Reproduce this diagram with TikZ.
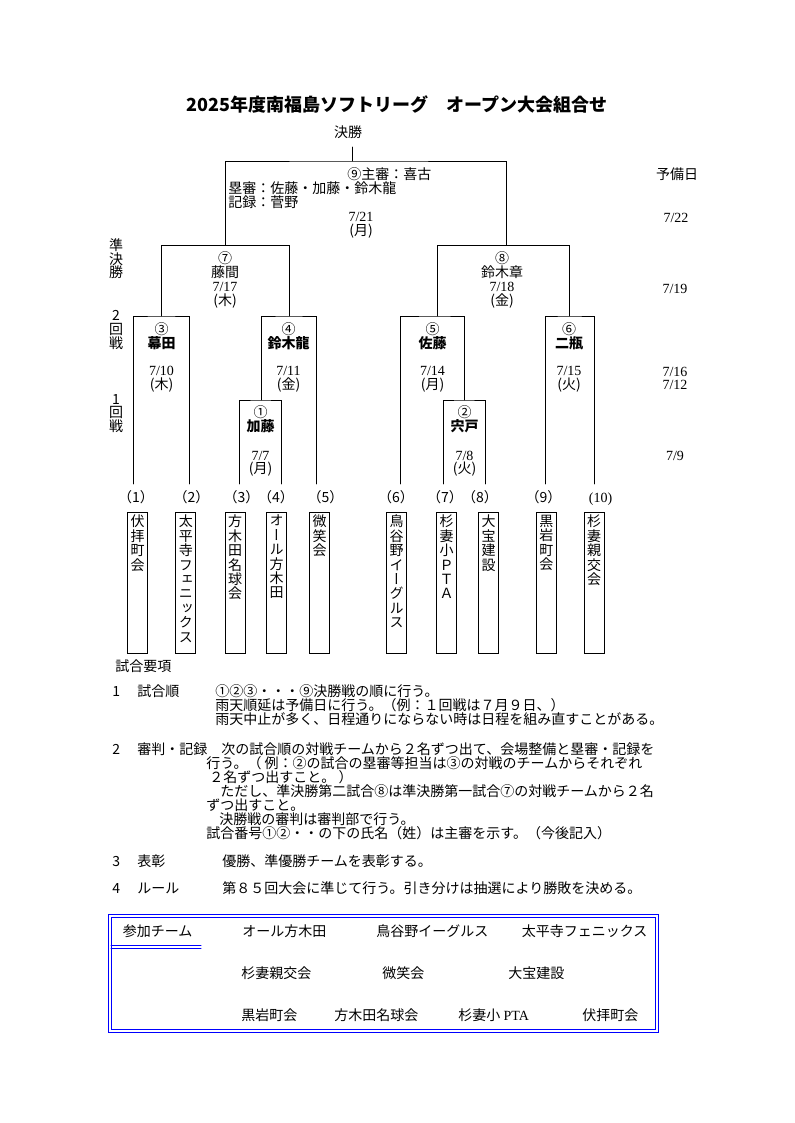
\documentclass[tikz,border=0pt]{standalone}
\usepackage{fontspec}
\setmainfont{Noto Sans CJK JP}
\newfontfamily\tatefont[RawFeature=+vert]{Noto Sans CJK JP}
\newfontfamily\dfont{Liberation Serif}
\usetikzlibrary{positioning}

\begin{document}
\begin{tikzpicture}[x=0.75pt,y=-0.75pt,line cap=round,line join=miter,
    every path/.style={line width=.6pt},
    lbl/.style={inner sep=0pt,font=\fontsize{10.5pt}{10.5pt}\selectfont,
      text height=7.6pt,text depth=1.4pt},
    txt/.style={lbl,anchor=west},
    bold/.style={lbl,font=\fontsize{10.5pt}{10.5pt}\selectfont\bfseries},
    dt/.style={lbl,font=\dfont\fontsize{10.5pt}{10.5pt}\selectfont},
    stack/.style={inner sep=0pt,align=center,
      font=\fontsize{10.5pt}{10.2pt}\selectfont},
    teambox/.style={draw,anchor=north,inner sep=0pt,
      minimum width=15pt,minimum height=106pt},
    tate/.style={inner sep=0pt,align=center,anchor=north,
      font=\tatefont\fontsize{10.5pt}{10.8pt}\selectfont},
    frame/.style={draw=blue,line width=.75pt}]
    \useasboundingbox (0,0) rectangle (794,1123);
    \fill[white] (0,0) rectangle (794,1123);

    % Title and the final.
    \node[inner sep=0pt,font=\fontsize{13.5pt}{13.5pt}\selectfont\bfseries]
      (title) at (397,104) {2025年度南福島ソフトリーグ　オープン大会組合せ};
    \node[lbl] (final) at (348,133) {決勝};

    % Junctions of the bracket.
    \coordinate (top) at (352,147);
    \coordinate (j9) at (352,161);
    \coordinate (j7) at (225.5,245.5);
    \coordinate (j8) at (506.5,245.5);
    \coordinate (j3) at (161.5,316);
    \coordinate (j4) at (289,316);
    \coordinate (j5) at (437,316);
    \coordinate (j6) at (569.5,316);
    \coordinate (j1) at (261,400);
    \coordinate (j2) at (464,400);
    \foreach \i/\x in {1/133.5,2/189.5,3/239.5,4/281.5,5/316.5,
                       6/400.5,7/443.5,8/485.5,9/545,10/594}
      \coordinate (e\i) at (\x,484);

    \draw (top) -- (j9);
    \draw (j7) |- (j9) -| (j8);
    \draw (j3) |- (j7) -| (j4);
    \draw (j5) |- (j8) -| (j6);
    \draw (e1) |- (j3) -| (e2);
    \draw (j1) |- (j4) -| (e5);
    \draw (e6) |- (j5) -| (j2);
    \draw (e9) |- (j6) -| (e10);
    \draw (e3) |- (j1) -| (e4);
    \draw (e7) |- (j2) -| (e8);

    % Final, game 9.
    \node[txt] (ump9) at (347,175) {⑨主審：喜古};
    \node[txt] (base9) at (228,189) {塁審：佐藤・加藤・鈴木龍};
    \node[txt] (rec9) at (228,203) {記録：菅野};
    \node[dt] (d9) at (361,217) {7/21};
    \node[lbl] (w9) at (361,231) {(月)};

    % Reserve days.
    \node[lbl] (res) at (677,175) {予備日};
    \node[dt] (r9) at (676,218) {7/22};
    \node[dt] (r78) at (675,289) {7/19};
    \node[dt] (r56) at (675,372) {7/16};
    \node[dt] (r34) at (675,385) {7/12};
    \node[dt] (r12) at (675,456) {7/9};

    % Round names on the left.
    \node[stack] (rsemi) at (116,259) {準\\決\\勝};
    \node[stack] (rtwo) at (116,330) {2\\回\\戦};
    \node[stack] (rone) at (116,413.5) {1\\回\\戦};

    % Semi finals.
    \node[lbl] (n7) at (225,259) {⑦};
    \node[lbl] (u7) at (225,273) {藤間};
    \node[dt] (d7) at (225,287.5) {7/17};
    \node[lbl] (w7) at (225,301) {(木)};
    \node[lbl] (n8) at (502,259) {⑧};
    \node[lbl] (u8) at (502,273) {鈴木章};
    \node[dt] (d8) at (502,287.5) {7/18};
    \node[lbl] (w8) at (502,301) {(金)};

    % Second round.
    \node[lbl] (n3) at (161.5,330) {③};
    \node[bold] (u3) at (161.5,344) {幕田};
    \node[dt] (d3) at (161.5,371.5) {7/10};
    \node[lbl] (w3) at (161.5,385) {(木)};
    \node[lbl] (n4) at (288.5,330) {④};
    \node[bold] (u4) at (288.5,344) {鈴木龍};
    \node[dt] (d4) at (288.5,371.5) {7/11};
    \node[lbl] (w4) at (288.5,385) {(金)};
    \node[lbl] (n5) at (432.5,330) {⑤};
    \node[bold] (u5) at (432.5,344) {佐藤};
    \node[dt] (d5) at (432.5,371.5) {7/14};
    \node[lbl] (w5) at (432.5,385) {(月)};
    \node[lbl] (n6) at (569,330) {⑥};
    \node[bold] (u6) at (569,344) {二瓶};
    \node[dt] (d6) at (569,371.5) {7/15};
    \node[lbl] (w6) at (569,385) {(火)};

    % First round.
    \node[lbl] (n1) at (260.5,413) {①};
    \node[bold] (u1) at (260.5,427) {加藤};
    \node[dt] (d1) at (260.5,456) {7/7};
    \node[lbl] (w1) at (260.5,469.5) {(月)};
    \node[lbl] (n2) at (464.5,413) {②};
    \node[bold] (u2) at (464.5,427) {宍戸};
    \node[dt] (d2) at (464.5,456) {7/8};
    \node[lbl] (w2) at (464.5,469.5) {(火)};

    % Draw numbers and teams.
    \foreach \i/\x in {1/136,2/191.5,3/241.5,4/276,5/325.5,
                       6/396,7/445,8/480,9/543.5}
      \node[lbl] (p\i) at (\x,498) {（\i）};
    \node[dt] (p10) at (600.5,498) {(10)};

    \foreach \i/\x/\team in {1/137.7/{伏\\拝\\町\\会},
        2/185.8/{太\\平\\寺\\フ\\ェ\\ニ\\ッ\\ク\\ス},
        3/235/{方\\木\\田\\名\\球\\会},
        4/276.7/{オ\\ー\\ル\\方\\木\\田},
        5/319.7/{微\\笑\\会},
        6/396.5/{鳥\\谷\\野\\イ\\ー\\グ\\ル\\ス},
        7/446.7/{杉\\妻\\小\\Ｐ\\Ｔ\\Ａ},
        8/488.5/{大\\宝\\建\\設},
        9/546.3/{黒\\岩\\町\\会},
        10/594/{杉\\妻\\親\\交\\会}}{
      \node[teambox] (t\i) at (\x,512) {};
      \node[tate,below=2pt of t\i.north] (tn\i) {\team};
    }

    % Rules of the games.
    \node[txt] (sec) at (115,667) {試合要項};
    \node[txt] (k1) at (112,692) {1};
    \node[txt] (h1) at (137,692) {試合順};
    \node[txt] (a1) at (215,692) {①②③・・・⑨決勝戦の順に行う。};
    \node[txt] (a2) at (215,706) {雨天順延は予備日に行う。（例：１回戦は７月９日、）};
    \node[txt] (a3) at (215,720.5) {雨天中止が多く、日程通りにならない時は日程を組み直すことがある。};
    \node[txt] (k2) at (112,750) {2};
    \node[txt] (h2) at (137,750) {審判・記録};
    \node[txt] (b1) at (221,750) {次の試合順の対戦チームから２名ずつ出て、会場整備と塁審・記録を};
    \node[txt] (b2) at (206,764) {行う。（ 例：②の試合の塁審等担当は③の対戦のチームからそれぞれ};
    \node[txt] (b3) at (209,778) {２名ずつ出すこと。 ）};
    \node[txt] (b4) at (220,792) {ただし、準決勝第二試合⑧は準決勝第一試合⑦の対戦チームから２名};
    \node[txt] (b5) at (206,806) {ずつ出すこと。};
    \node[txt] (b6) at (219,820) {決勝戦の審判は審判部で行う。};
    \node[txt] (b7) at (206,834.5) {試合番号①②・・の下の氏名（姓）は主審を示す。（今後記入）};
    \node[txt] (k3) at (112,862.5) {3};
    \node[txt] (h3) at (137,862.5) {表彰};
    \node[txt] (c1) at (222,862.5) {優勝、準優勝チームを表彰する。};
    \node[txt] (k4) at (112,889.5) {4};
    \node[txt] (h4) at (137,889.5) {ルール};
    \node[txt] (c2) at (222,889.5) {第８５回大会に準じて行う。引き分けは抽選により勝敗を決める。};

    % Participating teams.
    \draw[frame] (108,914) rectangle (658,1032);
    \draw[frame] (111,917) rectangle (655,1029);
    \node[txt] (head) at (122.5,932) {参加チーム};
    \draw[frame] (111,945) -- (201,945);
    \draw[frame] (111,948) -- (201,948);
    \node[txt] (q1) at (242,932) {オール方木田};
    \node[txt] (q2) at (376,932) {鳥谷野イーグルス};
    \node[txt] (q3) at (521.5,932) {太平寺フェニックス};
    \node[txt] (q4) at (241,974) {杉妻親交会};
    \node[txt] (q5) at (382,974) {微笑会};
    \node[txt] (q6) at (508,974) {大宝建設};
    \node[txt] (q7) at (241,1016) {黒岩町会};
    \node[txt] (q8) at (334,1016) {方木田名球会};
    \node[txt] (q9) at (458,1016) {杉妻小 {\dfont PTA}};
    \node[txt] (q10) at (582,1016) {伏拝町会};
  \end{tikzpicture}
\end{document}
